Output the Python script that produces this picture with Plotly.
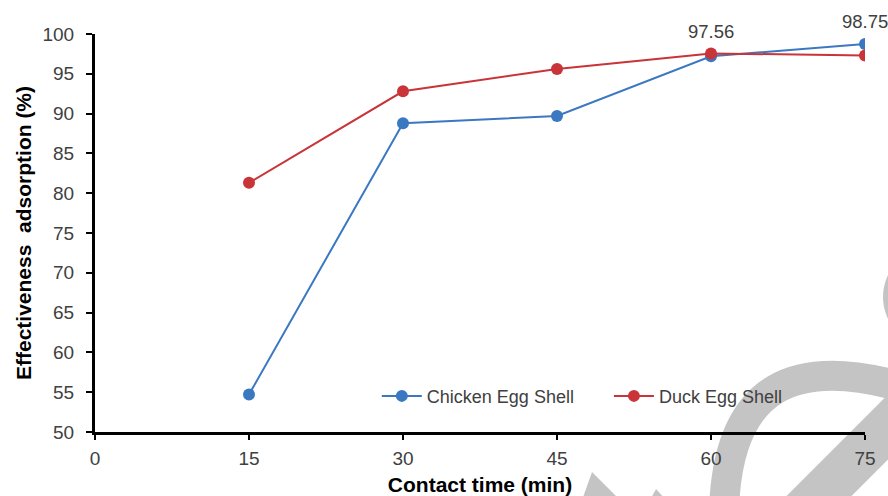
import plotly.graph_objects as go

contact_time = [15, 30, 45, 60, 75]
chicken = [54.7, 88.8, 89.7, 97.2, 98.75]
duck = [81.3, 92.8, 95.6, 97.56, 97.3]
x_ticks = [0, 15, 30, 45, 60, 75]
y_ticks = [50, 55, 60, 65, 70, 75, 80, 85, 90, 95, 100]
label_x = [60, 75]
label_y = [97.56, 98.75]
label_text = ["97.56", "98.75"]

BLUE = "#3b78c2"
RED = "#c83438"
TICK = "#404040"
FONT = "Liberation Sans, Arial, sans-serif"

fig = go.Figure()
fig.add_trace(go.Scatter(x=contact_time, y=chicken, mode="lines+markers",
                         name="Chicken Egg Shell" + "&nbsp;" * 6,
                         line=dict(color=BLUE, width=2),
                         marker=dict(color=BLUE, size=12)))
fig.add_trace(go.Scatter(x=contact_time, y=duck, mode="lines+markers",
                         name="Duck Egg Shell",
                         line=dict(color=RED, width=2),
                         marker=dict(color=RED, size=12)))

for lx, ly, lt in zip(label_x, label_y, label_text):
    fig.add_annotation(x=lx, y=ly, text=lt, showarrow=False, yshift=22,
                       font=dict(family=FONT, size=18.5, color=TICK))

# watermark decoration (paper coords, from screen pixels)
def px(p):
    return (p - 95) / 770
def py(p):
    return (432 - p) / 398
def pt(x, y):
    return f"{px(x):.4f},{py(y):.4f}"

grey = "#c4c4c4"
fig.add_shape(type="path", xref="paper", yref="paper", layer="below",
              path=f"M {pt(724, 510)} C {pt(728, 380)} {pt(800, 360)} {pt(895, 385)}",
              fillcolor="rgba(0,0,0,0)", line=dict(color=grey, width=30))
fig.add_shape(type="line", xref="paper", yref="paper", layer="below",
              x0=px(795), y0=py(520), x1=px(910), y1=py(405),
              line=dict(color=grey, width=46))
fig.add_shape(type="path", xref="paper", yref="paper", layer="below",
              path=f"M {pt(592, 472)} L {pt(620, 500)} L {pt(582, 500)} Z",
              fillcolor=grey, line=dict(width=0))
fig.add_shape(type="path", xref="paper", yref="paper", layer="below",
              path=f"M {pt(656, 489)} L {pt(666, 500)} L {pt(650, 500)} Z",
              fillcolor=grey, line=dict(width=0))
fig.add_shape(type="circle", xref="paper", yref="paper", layer="below",
              x0=px(883), x1=px(983), y0=py(347), y1=py(247),
              fillcolor=grey, line=dict(width=0))

fig.update_layout(
    width=888, height=496,
    margin=dict(l=95, r=23, t=34, b=64),
    paper_bgcolor="white", plot_bgcolor="rgba(0,0,0,0)",
    font=dict(family=FONT, color=TICK),
    showlegend=True,
    legend=dict(orientation="h", x=0.366, y=0.09, xanchor="left", yanchor="middle",
                bgcolor="rgba(0,0,0,0)", font=dict(size=18, color=TICK),
                itemwidth=40, tracegroupgap=0),
    xaxis=dict(range=[0, 75], tickvals=x_ticks, showgrid=False, zeroline=False,
               showline=True, linecolor="black", linewidth=3, automargin=False,
               ticks="outside", ticklen=5, tickwidth=2, tickcolor="black",
               ticklabelstandoff=2,
               tickfont=dict(size=19, color=TICK),
               title=dict(text="<b>Contact time (min)</b>", standoff=12,
                          font=dict(size=21, color="black"))),
    yaxis=dict(range=[50, 100], tickvals=y_ticks, showgrid=False, zeroline=False,
               showline=True, linecolor="black", linewidth=3, automargin=False,
               ticks="outside", ticklen=6, tickwidth=2, tickcolor="black",
               ticklabelstandoff=8,
               tickfont=dict(size=19, color=TICK),
               title=dict(text="<b>Effectiveness&nbsp; adsorption (%)</b>", standoff=6,
                          font=dict(size=21, color="black"))),
)

fig.write_html("out.html", config={"displayModeBar": False},
               post_script="document.body.style.margin='0';document.body.style.overflow='hidden';")
